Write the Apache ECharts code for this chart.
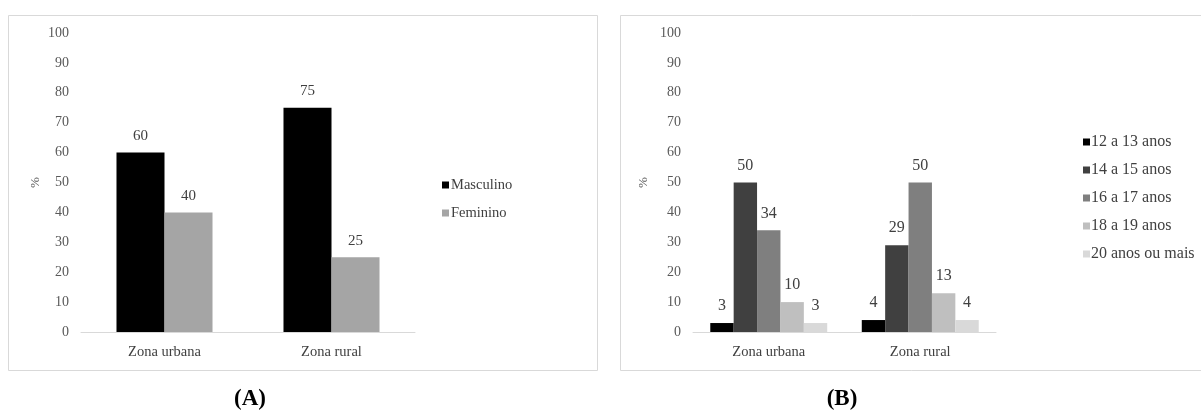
<!DOCTYPE html>
<html><head><meta charset="utf-8">
<script src="https://cdn.jsdelivr.net/npm/echarts@6/dist/echarts.min.js"></script>
<style>html,body{margin:0;padding:0;background:#fff;}#c{width:1201px;height:412px;}</style>
</head><body><div id="c"></div>
<script>
var categories = ['Zona urbana', 'Zona rural'];
var yTicks = [0, 10, 20, 30, 40, 50, 60, 70, 80, 90, 100];
var sexNames = ['Masculino', 'Feminino'];
var masculino = [60, 75];
var feminino = [40, 25];
var ageNames = ['12 a 13 anos', '14 a 15 anos', '16 a 17 anos', '18 a 19 anos', '20 anos ou mais'];
var age12_13 = [3, 4];
var age14_15 = [50, 29];
var age16_17 = [34, 50];
var age18_19 = [10, 13];
var age20plus = [3, 4];

var FONT = '"Liberation Serif", "Times New Roman", serif';
var sexColors = ['#000000', '#a5a5a5'];
var ageColors = ['#000000', '#404040', '#7f7f7f', '#bfbfbf', '#d9d9d9'];
var ageData = [age12_13, age14_15, age16_17, age18_19, age20plus];

function yAxis(gridIndex, margin, nameGap) {
  return {
    type: 'value', gridIndex: gridIndex, min: yTicks[0], max: yTicks[yTicks.length - 1], interval: yTicks[1] - yTicks[0],
    name: '%', nameLocation: 'middle', nameRotate: 90, nameGap: nameGap,
    nameTextStyle: {fontFamily: FONT, fontSize: 13, color: '#595959'},
    axisLine: {show: false}, axisTick: {show: false}, splitLine: {show: false},
    axisLabel: {fontFamily: FONT, fontSize: 14, color: '#595959', margin: margin}
  };
}
function xAxis(gridIndex) {
  return {
    type: 'category', gridIndex: gridIndex, data: categories,
    axisLine: {lineStyle: {color: '#d9d9d9'}}, axisTick: {show: false},
    axisLabel: {fontFamily: FONT, fontSize: 14.5, color: '#404040', margin: 13}
  };
}
function labelStyle(size) {
  return {show: true, position: 'top', distance: 9, fontFamily: FONT, fontSize: size, color: '#404040'};
}

var series = [];
sexNames.forEach(function (n, i) {
  series.push({
    name: n, type: 'bar', xAxisIndex: 0, yAxisIndex: 0,
    data: [masculino, feminino][i], itemStyle: {color: sexColors[i]},
    barGap: '0%', barCategoryGap: '42.5%', label: labelStyle(15)
  });
});
ageNames.forEach(function (n, i) {
  series.push({
    name: n, type: 'bar', xAxisIndex: 1, yAxisIndex: 1,
    data: ageData[i], itemStyle: {color: ageColors[i]},
    barGap: '0%', barCategoryGap: '22.8%', label: labelStyle(16)
  });
});

var chart = echarts.init(document.getElementById('c'));
chart.setOption({
  backgroundColor: '#ffffff',
  animation: false,
  grid: [
    {left: 81, top: 33, width: 334, height: 299},
    {left: 693, top: 33, width: 303, height: 299}
  ],
  xAxis: [xAxis(0), xAxis(1)],
  yAxis: [yAxis(0, 12, 39), yAxis(1, 12, 43)],
  legend: [
    {data: sexNames, orient: 'vertical', left: 437, top: 172, itemWidth: 7, itemHeight: 7, itemGap: 12,
     icon: 'rect', textStyle: {fontFamily: FONT, fontSize: 14.5, lineHeight: 16, color: '#404040', padding: [0, 0, 0, -3]}},
    {data: ageNames, orient: 'vertical', left: 1078, top: 129, itemWidth: 7, itemHeight: 7, itemGap: 12,
     icon: 'rect', textStyle: {fontFamily: FONT, fontSize: 16, lineHeight: 16, color: '#404040', padding: [0, 0, 0, -4]}}
  ],
  graphic: [
    {type: 'rect', shape: {x: 8.5, y: 15.5, width: 589, height: 355}, style: {fill: null, stroke: '#d9d9d9', lineWidth: 1}, z: -1},
    {type: 'rect', shape: {x: 620.5, y: 15.5, width: 590, height: 355}, style: {fill: null, stroke: '#d9d9d9', lineWidth: 1}, z: -1},
    {type: 'text', x: 250, y: 399, style: {text: '(A)', fontFamily: FONT, fontSize: 23, fontWeight: 'bold', fill: '#000', align: 'center', verticalAlign: 'middle'}},
    {type: 'text', x: 842, y: 399, style: {text: '(B)', fontFamily: FONT, fontSize: 23, fontWeight: 'bold', fill: '#000', align: 'center', verticalAlign: 'middle'}}
  ],
  series: series
});
</script></body></html>
